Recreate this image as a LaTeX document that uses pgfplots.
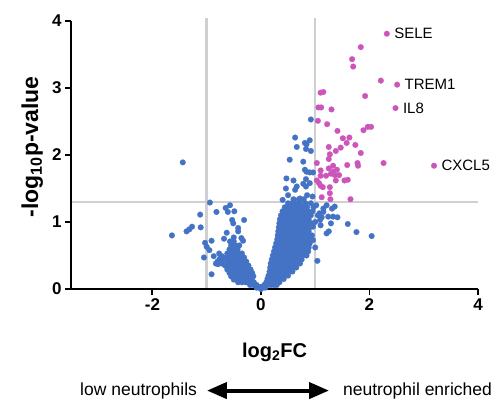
\documentclass[border=0pt]{standalone}
\usepackage{pgfplots}
\pgfplotsset{compat=1.18}
\usepackage{fontspec}
\setmainfont{Liberation Sans}
\usetikzlibrary{arrows.meta}

\definecolor{dotblue}{HTML}{4472C4}
\definecolor{dotpink}{HTML}{CC55BB}
\definecolor{cutgray}{HTML}{D0D0D0}

\begin{document}
\begin{tikzpicture}
\useasboundingbox (-71pt,-112pt) rectangle (428pt,289pt);
\begin{axis}[
	scale only axis,
	width=407pt, height=268pt,
	xmin=-3.5, xmax=4, ymin=0, ymax=4,
	xtick={-2,0,2,4}, ytick={0,1,2,3,4},
	axis lines=left,
	axis line style={-, line width=1.8pt, black},
	tick style={line width=1.8pt, black},
	tick align=outside, major tick length=6pt,
	/pgf/number format/assume math mode=true,
	tick label style={font=\bfseries\fontsize{17}{20}\selectfont},
	xlabel={log\textsubscript{2}FC},
	ylabel={-log\textsubscript{10}p-value},
	xlabel style={font=\bfseries\fontsize{20}{24}\selectfont, at={(rel axis cs:0.5,-0.235)}, anchor=center},
	ylabel style={font=\bfseries\fontsize{23}{26}\selectfont, at={(rel axis cs:-0.095,0.53)}, anchor=center},
	clip=false,
	axis on top,
]
% threshold lines
\addplot[cutgray, line width=2.5pt] coordinates {(-1,0) (-1,4.04)};
\addplot[cutgray, line width=2.5pt] coordinates {(1,0) (1,4.04)};
\addplot[cutgray, line width=2.5pt] coordinates {(-3.5,1.3) (4,1.3)};

% not significant
\addplot[only marks, mark=*, mark size=2.9pt, draw=dotblue, fill=dotblue, mark options={solid, draw=dotblue, fill=dotblue, line width=0.1pt}] table {
x y
-1.44 1.89
-0.94 1.29
-1.12 1.11
-0.82 1.15
-1.11 0.92
-1.27 0.93
-1.32 0.89
-1.37 0.86
-1.64 0.80
-0.65 1.21
-0.57 1.25
-0.61 1.15
-0.49 1.16
-0.53 1.03
-0.51 0.98
-0.31 1.03
-0.42 0.91
-0.42 0.86
-0.63 0.84
-0.68 0.75
-0.50 0.77
-0.36 0.76
-0.33 0.72
-1.03 0.69
-0.91 0.72
-1.00 0.63
-0.95 0.58
-1.05 0.47
-0.87 0.49
-0.91 0.22
-0.77 0.53
-0.72 0.49
-0.83 0.38
-0.79 0.37
-0.80 0.41
-0.72 0.38
-0.76 0.45
-0.68 0.44
-0.64 0.47
0.00 0.00
-0.02 0.03
0.02 0.03
-0.08 0.02
-0.03 0.02
-0.20 0.06
-0.14 0.06
-0.08 0.06
-0.42 0.10
-0.35 0.10
-0.28 0.10
-0.21 0.10
-0.13 0.10
-0.50 0.14
-0.44 0.14
-0.37 0.14
-0.30 0.14
-0.24 0.14
-0.17 0.14
-0.55 0.19
-0.48 0.19
-0.41 0.19
-0.34 0.19
-0.27 0.19
-0.20 0.19
-0.14 0.19
-0.58 0.24
-0.51 0.24
-0.44 0.24
-0.37 0.24
-0.30 0.24
-0.23 0.24
-0.16 0.24
-0.62 0.29
-0.54 0.29
-0.47 0.29
-0.40 0.29
-0.33 0.29
-0.26 0.29
-0.19 0.29
-0.66 0.35
-0.58 0.35
-0.51 0.35
-0.44 0.35
-0.37 0.35
-0.30 0.35
-0.23 0.35
-0.62 0.41
-0.55 0.41
-0.48 0.41
-0.41 0.41
-0.34 0.41
-0.27 0.41
-0.60 0.47
-0.52 0.47
-0.45 0.47
-0.38 0.47
-0.31 0.47
-0.62 0.53
-0.55 0.53
-0.48 0.53
-0.41 0.53
-0.35 0.53
-0.58 0.59
-0.50 0.59
-0.43 0.59
-0.55 0.65
-0.47 0.65
-0.40 0.65
-0.57 0.71
-0.50 0.71
0.03 0.02
0.08 0.02
0.06 0.06
0.12 0.06
0.18 0.06
0.24 0.06
0.29 0.06
0.10 0.10
0.16 0.10
0.22 0.10
0.28 0.10
0.34 0.10
0.12 0.15
0.18 0.15
0.24 0.15
0.30 0.15
0.36 0.15
0.42 0.15
0.14 0.20
0.20 0.20
0.26 0.20
0.32 0.20
0.38 0.20
0.44 0.20
0.50 0.20
0.16 0.26
0.22 0.26
0.28 0.26
0.34 0.26
0.40 0.26
0.46 0.26
0.52 0.26
0.58 0.26
0.17 0.32
0.23 0.32
0.29 0.32
0.35 0.32
0.41 0.32
0.47 0.32
0.53 0.32
0.59 0.32
0.65 0.32
0.18 0.38
0.24 0.38
0.30 0.38
0.36 0.38
0.42 0.38
0.48 0.38
0.54 0.38
0.60 0.38
0.66 0.38
0.72 0.38
0.20 0.44
0.26 0.44
0.32 0.44
0.38 0.44
0.44 0.44
0.50 0.44
0.56 0.44
0.62 0.44
0.68 0.44
0.75 0.44
0.22 0.50
0.28 0.50
0.34 0.50
0.40 0.50
0.46 0.50
0.52 0.50
0.58 0.50
0.64 0.50
0.70 0.50
0.77 0.50
0.84 0.50
0.24 0.56
0.30 0.56
0.36 0.56
0.42 0.56
0.48 0.56
0.54 0.56
0.60 0.56
0.66 0.56
0.72 0.56
0.79 0.56
0.87 0.56
0.26 0.62
0.32 0.62
0.38 0.62
0.44 0.62
0.50 0.62
0.56 0.62
0.62 0.62
0.68 0.62
0.74 0.62
0.81 0.62
0.88 0.62
0.28 0.68
0.34 0.68
0.40 0.68
0.46 0.68
0.52 0.68
0.58 0.68
0.64 0.68
0.70 0.68
0.76 0.68
0.83 0.68
0.90 0.68
0.30 0.74
0.36 0.74
0.42 0.74
0.48 0.74
0.54 0.74
0.60 0.74
0.66 0.74
0.72 0.74
0.78 0.74
0.84 0.74
0.92 0.74
0.31 0.80
0.37 0.80
0.43 0.80
0.49 0.80
0.55 0.80
0.61 0.80
0.67 0.80
0.73 0.80
0.79 0.80
0.86 0.80
0.94 0.80
0.32 0.86
0.38 0.86
0.44 0.86
0.50 0.86
0.56 0.86
0.62 0.86
0.68 0.86
0.74 0.86
0.80 0.86
0.88 0.86
0.33 0.92
0.39 0.92
0.45 0.92
0.51 0.92
0.57 0.92
0.63 0.92
0.69 0.92
0.75 0.92
0.82 0.92
0.90 0.92
0.34 0.98
0.40 0.98
0.46 0.98
0.52 0.98
0.58 0.98
0.64 0.98
0.70 0.98
0.77 0.98
0.85 0.98
0.93 0.98
0.35 1.04
0.41 1.04
0.47 1.04
0.53 1.04
0.59 1.04
0.65 1.04
0.72 1.04
0.80 1.04
0.88 1.04
0.37 1.10
0.43 1.10
0.49 1.10
0.55 1.10
0.61 1.10
0.68 1.10
0.76 1.10
0.84 1.10
0.92 1.10
0.40 1.16
0.46 1.16
0.52 1.16
0.58 1.16
0.64 1.16
0.71 1.16
0.79 1.16
0.87 1.16
0.95 1.16
0.44 1.22
0.50 1.22
0.56 1.22
0.62 1.22
0.68 1.22
0.76 1.22
0.85 1.22
0.97 1.22
0.50 1.28
0.57 1.28
0.64 1.28
0.72 1.28
0.82 1.28
0.92 1.28
0.60 1.34
0.70 1.34
0.79 1.34
1.04 0.42
1.00 0.62
0.96 0.73
0.96 0.93
1.21 0.83
1.25 0.86
1.29 0.98
1.60 0.97
1.76 0.85
2.04 0.79
1.09 1.03
1.08 1.13
1.24 1.08
1.33 1.08
1.41 1.07
1.31 1.20
1.36 1.23
1.21 1.25
1.15 1.15
1.12 1.07
1.15 1.20
1.02 1.25
1.05 1.10
1.00 1.00
1.10 0.95
0.92 2.53
0.63 2.26
0.90 2.22
0.81 2.18
0.84 2.16
0.66 2.12
0.83 2.09
0.92 2.06
0.53 1.93
0.78 1.90
0.81 1.78
0.84 1.75
0.90 1.74
0.96 1.74
0.47 1.65
0.60 1.62
0.83 1.64
0.78 1.57
0.46 1.50
0.63 1.48
0.66 1.53
0.83 1.53
0.90 1.58
0.72 1.35
0.50 1.40
0.85 1.40
0.95 1.38
0.40 1.33
};

% significant
\addplot[only marks, mark=*, mark size=2.9pt, draw=dotpink, fill=dotpink, mark options={solid, draw=dotpink, fill=dotpink, line width=0.1pt}] table {
x y
2.32 3.81
1.84 3.61
1.68 3.43
1.70 3.32
2.21 3.11
2.51 3.05
1.92 2.88
1.10 2.93
1.15 2.94
1.06 2.71
1.11 2.71
1.30 2.68
2.48 2.70
1.05 2.51
1.22 2.46
1.41 2.36
1.89 2.37
1.97 2.42
2.03 2.42
1.51 2.25
1.63 2.26
1.58 2.18
1.25 2.12
1.47 2.11
1.74 2.15
1.38 2.06
1.84 2.03
1.27 2.01
1.25 1.94
2.26 1.88
1.78 1.88
1.79 1.84
1.59 1.85
1.03 1.88
1.25 1.80
1.33 1.84
1.40 1.78
1.10 1.77
1.33 1.75
1.29 1.72
1.20 1.69
1.10 1.69
1.36 1.70
1.44 1.70
1.38 1.62
1.54 1.62
1.60 1.63
1.03 1.62
1.07 1.58
1.10 1.54
1.14 1.52
1.27 1.52
1.27 1.43
1.12 1.37
1.28 1.34
1.65 1.34
3.19 1.84
};

\node[anchor=west, font=\fontsize{15}{18}\selectfont] at (axis cs:2.32,3.81) [xshift=4pt] {SELE};
\node[anchor=west, font=\fontsize{15}{18}\selectfont] at (axis cs:2.51,3.05) [xshift=4pt] {TREM1};
\node[anchor=west, font=\fontsize{15}{18}\selectfont] at (axis cs:2.48,2.70) [xshift=4pt] {IL8};
\node[anchor=west, font=\fontsize{15}{18}\selectfont] at (axis cs:3.19,1.84) [xshift=4pt] {CXCL5};

% direction key under the axis
\draw[line width=4pt, {Triangle[length=20pt,width=16pt]}-{Triangle[length=20pt,width=16pt]}]
	(rel axis cs:0.334,-0.379) -- (rel axis cs:0.634,-0.379);
\node[anchor=east, inner sep=0pt, font=\fontsize{17.5}{20}\selectfont] at (rel axis cs:0.310,-0.379) {low neutrophils};
\node[anchor=west, inner sep=0pt, font=\fontsize{17.5}{20}\selectfont] at (rel axis cs:0.668,-0.379) {neutrophil enriched};
\end{axis}
\end{tikzpicture}
\end{document}
